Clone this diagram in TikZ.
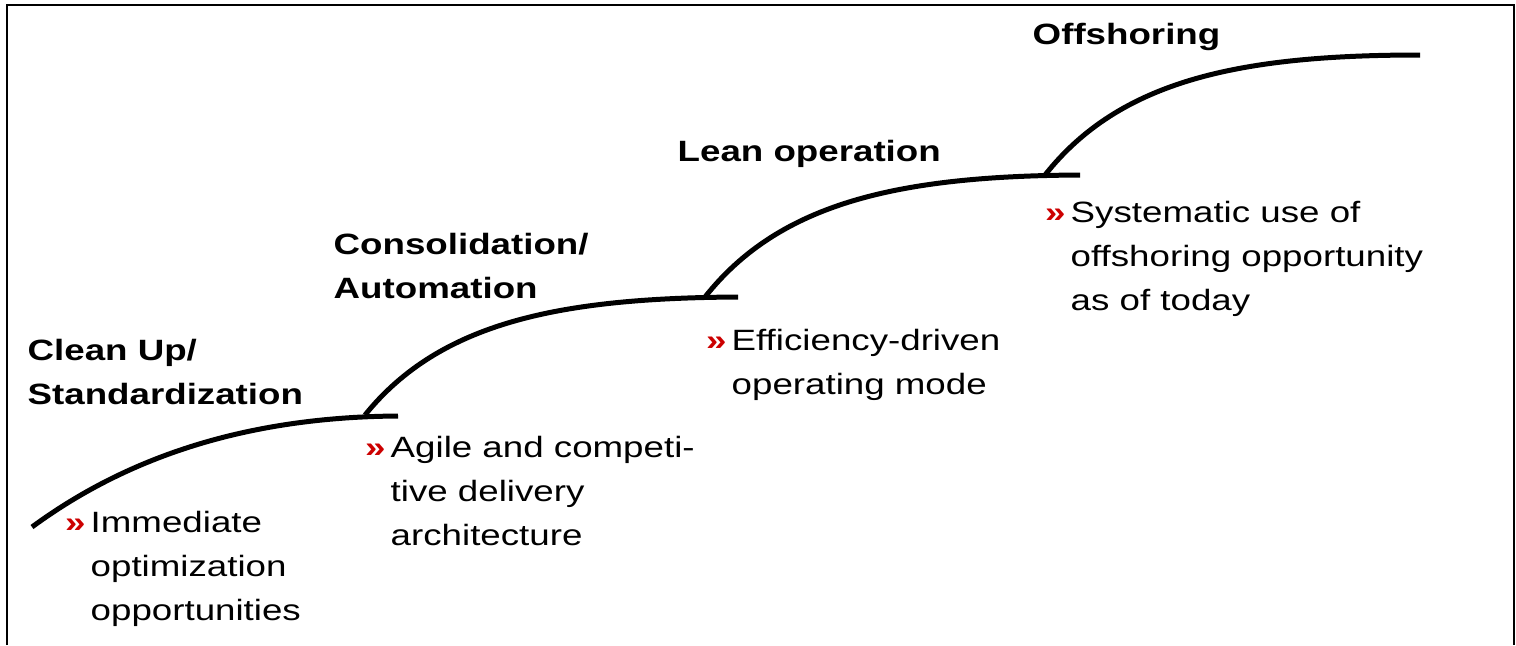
\documentclass[tikz,border=0pt]{standalone}
\usepackage{fontspec}
\setmainfont[FakeStretch=1.25]{Liberation Sans}
\definecolor{bulletred}{RGB}{204,0,0}
\newcommand{\redmark}{\llap{\textcolor{bulletred}{\bfseries»}\kern1.5pt}}

\begin{document}
\begin{tikzpicture}[x=0.01cm,y=-0.01cm,
    stage/.style={anchor=base west,inner sep=0pt,align=left,font=\fontsize{8.35pt}{12.4pt}\selectfont\bfseries},
    note/.style={anchor=base west,inner sep=0pt,align=left,font=\fontsize{8.35pt}{12.4pt}\selectfont},
    stair/.style={line width=1.42pt}]
        \useasboundingbox (0,0) rectangle (1516,645);
        \draw[line width=0.57pt] (7,645) -- (7,5) -- (1513.5,5) -- (1513.5,645);
        % the four stairs
        \draw[stair] (32,527) .. controls (130,455) and (250,417) .. (398,416);
        \draw[stair] (365,415) .. controls (440,322) and (560,298) .. (738,297);
        \draw[stair] (705,297) .. controls (780,202) and (900,176) .. (1080,175);
        \draw[stair] (1045,175) .. controls (1120,80) and (1240,55) .. (1420,55);
        % stage titles (placed at the baseline of their last line)
        \node[stage] (cleanup) at (27,404) {Clean Up/\\Standardization};
        \node[stage] (consol) at (333,298) {Consolidation/\\Automation};
        \node[stage] (lean) at (677,161) {Lean operation};
        \node[stage] (offshore) at (1032,44) {Offshoring};
        % notes under each stair
        \node[note] (immediate) at (90,620) {\redmark Immediate\\optimization\\opportunities};
        \node[note] (agile) at (390,545) {\redmark Agile and competi-\\tive delivery\\architecture};
        \node[note] (efficiency) at (731,394) {\redmark Efficiency-driven\\operating mode};
        \node[note] (systematic) at (1070,310) {\redmark Systematic use of\\offshoring opportunity\\as of today};
\end{tikzpicture}
\end{document}
